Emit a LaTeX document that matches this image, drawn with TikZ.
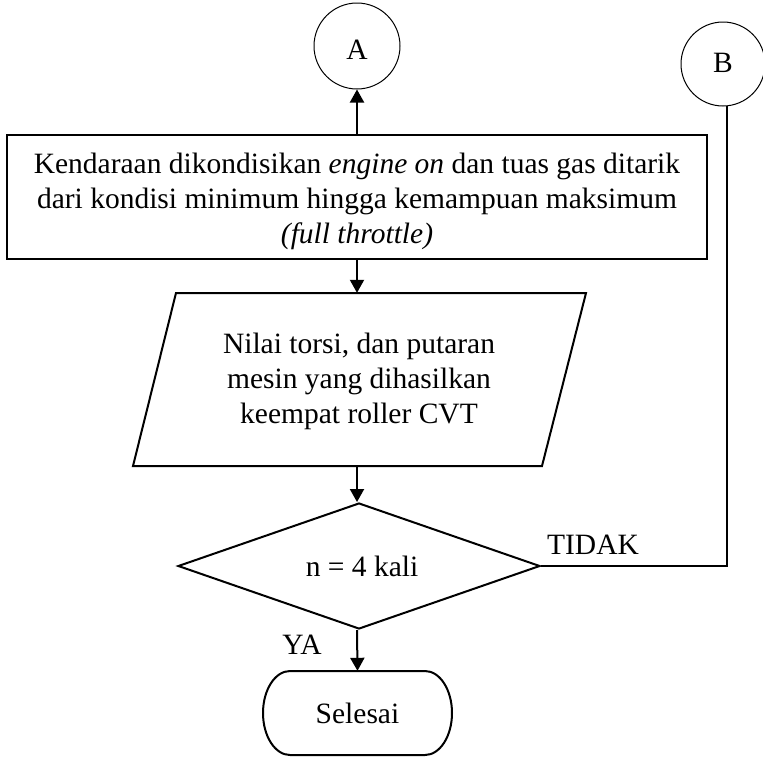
\documentclass[tikz,border=0pt]{standalone}
\usepackage{fontspec}
\setmainfont{Liberation Serif}
\usetikzlibrary{arrows.meta,shapes.geometric,calc}
\begin{document}
\begin{tikzpicture}[x=1pt,y=-1pt,
  every node/.style={font=\fontsize{29.5}{35}\selectfont},
  box/.style={draw,line width=2pt,minimum width=700pt,minimum height=124pt,align=center,inner sep=0pt},
  conn/.style={circle,draw,line width=1pt,minimum size=86pt,inner sep=0pt},
  ghost/.style={draw=none,align=center,inner sep=0pt},
  decision/.style={diamond,draw,line width=2pt,minimum width=362pt,minimum height=126pt,inner sep=0pt,aspect=2.87},
  flow/.style={line width=2pt},
  arr/.style={line width=2pt,-{Triangle[width=14pt,length=13pt]}},
  lbl/.style={inner sep=0pt,align=center}]
\useasboundingbox (0,0) rectangle (763,756);

% connectors
\node[conn] (A) at (357,46) {};
\node[lbl] at (357,50) {A};
\node[conn,minimum size=84pt] (B) at (723,64) {};
\node[lbl] at (723,63) {B};

% process box
\node[box] (proc) at (357,197) {};
\node[lbl] at (357,201) {Kendaraan dikondisikan \textit{engine on} dan tuas gas ditarik\\dari kondisi minimum hingga kemampuan maksimum\\\textit{(full throttle)}};

% data (parallelogram)
\node[ghost,minimum width=400pt,minimum height=173pt] (par) at (357,379.5) {};
\node[lbl] at (359,381) {Nilai torsi, dan putaran\\mesin yang dihasilkan\\keempat roller CVT};
\draw[flow,line join=miter] (176,293) -- (586,293) -- (542,466) -- (133,466) -- cycle;

% decision
\node[decision] (dia) at (359,566) {};
\node[lbl] at (362,566) {n = 4 kali};

% terminal
\node[ghost,minimum width=189pt,minimum height=84pt] (term) at (357.5,713) {Selesai};
\draw[flow] (290,671) -- (425,671)
  arc[start angle=-90,end angle=90,x radius=27,y radius=42] -- (290,755)
  arc[start angle=90,end angle=270,x radius=27,y radius=42] -- cycle;

% arrows
\draw[arr] (proc.north) -- (A.south);
\draw[arr] (proc.south) -- (par.north);
\draw[arr] (par.south) -- (par.south |- dia.north);
\draw[arr] (par.south |- dia.south) -- (term.north);
\draw[flow] (dia.east) -| (B.-84);

% labels
\node[lbl] at (593,545) {TIDAK};
\node[lbl] at (302,645) {YA};
\end{tikzpicture}
\end{document}
